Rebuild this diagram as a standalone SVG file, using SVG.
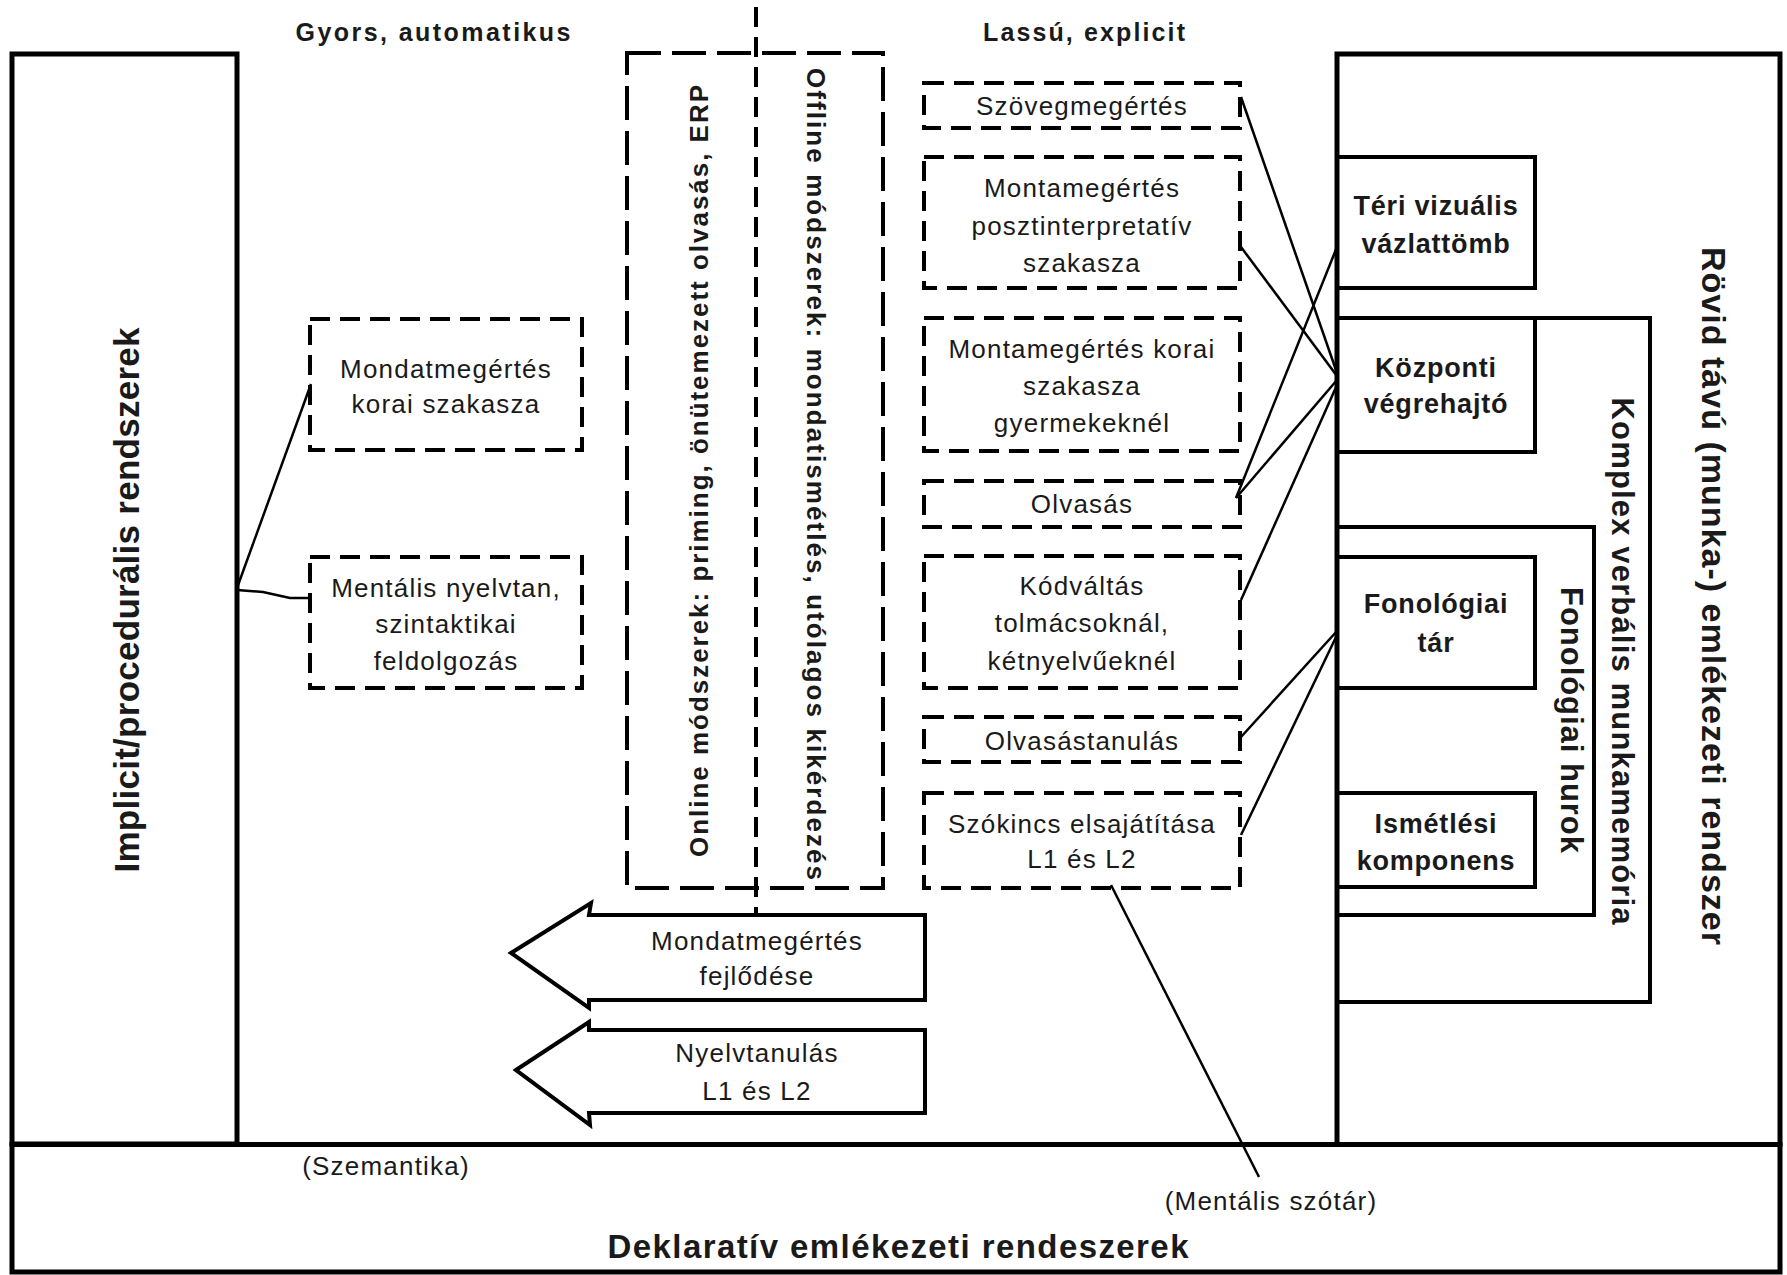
<svg xmlns="http://www.w3.org/2000/svg" width="1787" height="1275" viewBox="0 0 1787 1275">
<style>
.s{fill:none;stroke:#000;stroke-width:4}
.k{fill:none;stroke:#000;stroke-width:5}
.d{fill:none;stroke:#000;stroke-width:4;stroke-dasharray:20 10}
.dl{fill:none;stroke:#000;stroke-width:4;stroke-dasharray:34 11}
.c{fill:none;stroke:#000;stroke-width:2.5}
text{font-family:"Liberation Sans",Arial,sans-serif;fill:#1a1a1a;text-anchor:middle}
.t{font-size:26px;letter-spacing:1.2px}
.b{font-size:27px;font-weight:bold;letter-spacing:0.8px}
.v{font-weight:bold}
</style>
<rect width="1787" height="1275" fill="#fff"/>

<g id="implicit">
<rect class="k" x="12" y="54" width="225" height="1090"/>
<text class="v" font-size="35" textLength="545" lengthAdjust="spacing" transform="translate(139,600) rotate(-90)">Implicit/procedurális rendszerek</text>
</g>

<g id="deklarativ">
<rect class="k" x="12" y="1144.5" width="1768" height="127.5"/>
<text class="v" x="898" y="1258" font-size="33" textLength="581" lengthAdjust="spacing">Deklaratív emlékezeti rendeszerek</text>
<text class="t" x="386" y="1175">(Szemantika)</text>
<text class="t" x="1271" y="1210">(Mentális szótár)</text>
</g>

<g id="headers">
<text class="v" x="433" y="41" font-size="25" textLength="275" lengthAdjust="spacing">Gyors, automatikus</text>
<text class="v" x="1084" y="41" font-size="25" textLength="202" lengthAdjust="spacing">Lassú, explicit</text>
</g>

<g id="rovid">
<rect class="k" x="1337" y="54" width="443" height="1090.5"/>
<text class="v" font-size="34" textLength="698" lengthAdjust="spacing" transform="translate(1702,596) rotate(90)">Rövid távú (munka-) emlékezeti rendszer</text>
</g>

<g id="teri">
<rect class="s" x="1337" y="157" width="198" height="131"/>
<text class="b" x="1436" y="215">Téri vizuális</text>
<text class="b" x="1436" y="253">vázlattömb</text>
</g>

<g id="komplex">
<rect class="s" x="1337" y="318" width="313" height="684"/>
<text class="v" font-size="31" textLength="527" lengthAdjust="spacing" transform="translate(1612,661) rotate(90)">Komplex verbális munkamemória</text>
</g>

<g id="kozponti">
<rect class="s" x="1337" y="318" width="198" height="134"/>
<text class="b" x="1436" y="377">Központi</text>
<text class="b" x="1436" y="413">végrehajtó</text>
</g>

<g id="fonhurok">
<rect class="s" x="1337" y="527" width="257" height="388"/>
<text class="v" font-size="31" textLength="266" lengthAdjust="spacing" transform="translate(1561,720) rotate(90)">Fonológiai hurok</text>
</g>

<g id="fontar">
<rect class="s" x="1337" y="557" width="198" height="131"/>
<text class="b" x="1436" y="613">Fonológiai</text>
<text class="b" x="1436" y="652">tár</text>
</g>

<g id="ismetlesi">
<rect class="s" x="1337" y="793" width="198" height="94"/>
<text class="b" x="1436" y="833">Ismétlési</text>
<text class="b" x="1436" y="870">komponens</text>
</g>

<g id="modszerek">
<rect class="dl" x="627" y="53" width="256" height="835"/>
<text class="v" font-size="26" textLength="772" lengthAdjust="spacing" transform="translate(708,471) rotate(-90)">Online módszerek: priming, önütemezett olvasás, ERP</text>
<text class="v" font-size="26" textLength="812" lengthAdjust="spacing" transform="translate(807,474) rotate(90)">Offline módszerek: mondatismétlés, utólagos kikérdezés</text>
</g>

<g id="divider">
<line class="d" x1="756" y1="7" x2="756" y2="914" stroke-dasharray="22 10"/>
</g>

<g id="mondat-korai">
<rect class="d" x="310" y="319" width="272" height="131"/>
<text class="t" x="446" y="378">Mondatmegértés</text>
<text class="t" x="446" y="413">korai szakasza</text>
</g>

<g id="mentalis-nyelvtan">
<rect class="d" x="310" y="557" width="272" height="131"/>
<text class="t" x="446" y="597">Mentális nyelvtan,</text>
<text class="t" x="446" y="633">szintaktikai</text>
<text class="t" x="446" y="670">feldolgozás</text>
</g>

<g id="szoveg">
<rect class="d" x="924" y="83" width="316" height="45"/>
<text class="t" x="1082" y="115">Szövegmegértés</text>
</g>

<g id="poszt">
<rect class="d" x="924" y="157" width="316" height="131"/>
<text class="t" x="1082" y="197">Montamegértés</text>
<text class="t" x="1082" y="235">posztinterpretatív</text>
<text class="t" x="1082" y="272">szakasza</text>
</g>

<g id="gyermek">
<rect class="d" x="924" y="318" width="316" height="133"/>
<text class="t" x="1082" y="358">Montamegértés korai</text>
<text class="t" x="1082" y="395">szakasza</text>
<text class="t" x="1082" y="432">gyermekeknél</text>
</g>

<g id="olvasas">
<rect class="d" x="924" y="481" width="316" height="46"/>
<text class="t" x="1082" y="513">Olvasás</text>
</g>

<g id="kodvaltas">
<rect class="d" x="924" y="556" width="316" height="132"/>
<text class="t" x="1082" y="595">Kódváltás</text>
<text class="t" x="1082" y="632">tolmácsoknál,</text>
<text class="t" x="1082" y="670">kétnyelvűeknél</text>
</g>

<g id="olvtanulas">
<rect class="d" x="924" y="717" width="316" height="45"/>
<text class="t" x="1082" y="750">Olvasástanulás</text>
</g>

<g id="szokincs">
<rect class="d" x="924" y="793" width="316" height="95"/>
<text class="t" x="1082" y="833">Szókincs elsajátítása</text>
<text class="t" x="1082" y="868">L1 és L2</text>
</g>

<g id="arrow-fejlodes">
<polygon class="s" stroke-linejoin="miter" points="511,953 591,903 589,915 925,915 925,1000 589,1000 589,1008"/>
<text class="t" x="757" y="950">Mondatmegértés</text>
<text class="t" x="757" y="985">fejlődése</text>
</g>

<g id="arrow-nyelvtanulas">
<polygon class="s" points="516,1070 589,1022 589,1030 925,1030 925,1113 589,1113 590,1125"/>
<text class="t" x="757" y="1062">Nyelvtanulás</text>
<text class="t" x="757" y="1100">L1 és L2</text>
</g>

<g id="connectors">
<line class="c" x1="237" y1="588" x2="311" y2="384"/>
<polyline class="c" points="237,590 263,592 290,598 310,598"/>
<line class="c" x1="1241" y1="97" x2="1337" y2="373"/>
<line class="c" x1="1241" y1="247" x2="1337" y2="376"/>
<line class="c" x1="1236" y1="498" x2="1337" y2="247"/>
<line class="c" x1="1236" y1="498" x2="1337" y2="380"/>
<line class="c" x1="1241" y1="600" x2="1337" y2="385"/>
<line class="c" x1="1241" y1="737" x2="1337" y2="631"/>
<line class="c" x1="1241" y1="835" x2="1337" y2="635"/>
<line class="c" x1="1111" y1="885" x2="1259" y2="1177"/>
</g>
</svg>
